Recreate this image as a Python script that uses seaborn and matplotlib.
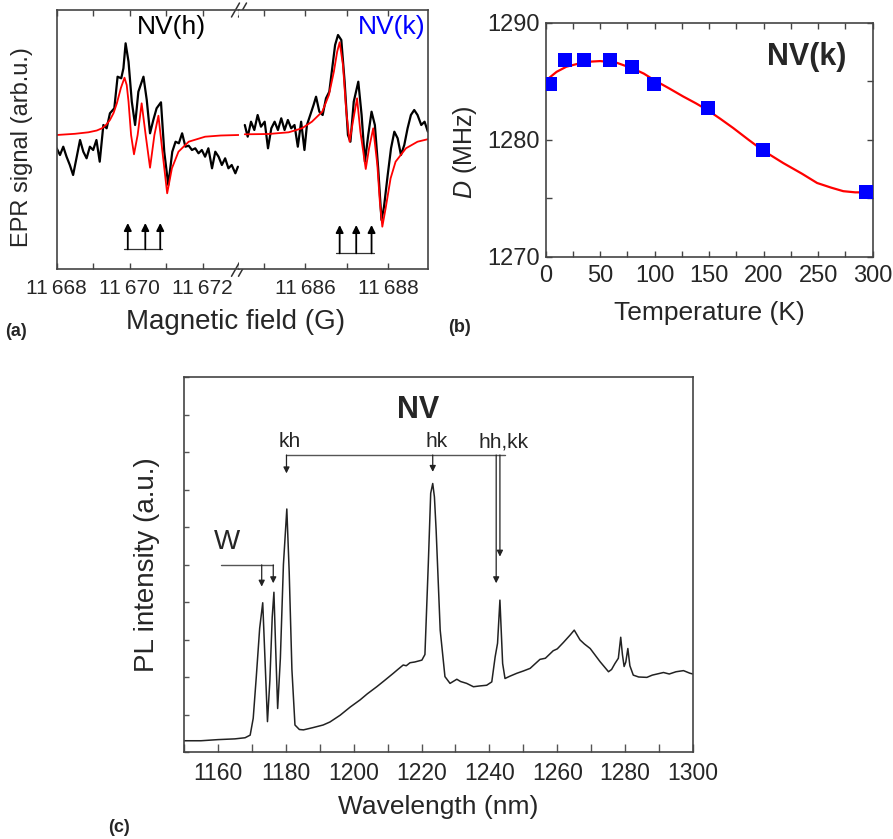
import matplotlib
matplotlib.use("Agg")
import matplotlib.pyplot as plt
import seaborn as sns
from matplotlib.ticker import MultipleLocator, FuncFormatter, NullFormatter

# ---------------- (a) EPR spectra ----------------
# NV(h) part, experiment (black) and fit (red)
field_h = [11668.0, 11668.09, 11668.18, 11668.27, 11668.36, 11668.45, 11668.55, 11668.64, 11668.73, 11668.82,
           11668.91, 11669.0, 11669.09, 11669.18, 11669.28, 11669.37, 11669.46, 11669.58, 11669.67, 11669.77,
           11669.83, 11669.89, 11669.97, 11670.06, 11670.15, 11670.24, 11670.38, 11670.47, 11670.56, 11670.65,
           11670.74, 11670.86, 11670.95, 11671.06, 11671.17, 11671.26, 11671.35, 11671.44, 11671.53, 11671.62,
           11671.71, 11671.80, 11671.89, 11671.98, 11672.07, 11672.16, 11672.26, 11672.35, 11672.44, 11672.53,
           11672.62, 11672.71, 11672.80, 11672.90, 11672.97]
epr_h = [-1.33, -2.0, -1.17, -2.17, -3.0, -4.0, -2.17, -0.5, -1.67, -2.33,
         -1.17, -1.5, -0.5, -2.67, 1.0, 0.67, 2.17, 2.67, 5.83, 5.67,
         6.67, 9.17, 7.33, 3.33, 1.0, 4.33, 5.83, 3.5, 0.17, 1.5,
         2.67, 3.27, -1.67, -5.0, -1.67, -0.67, -0.83, 0.17, -1.17, -1.07,
         -1.5, -1.33, -1.83, -1.5, -2.17, -1.33, -3.33, -1.67, -2.17, -3.0,
         -2.33, -3.33, -3.0, -3.83, -3.17]
field_h_fit = [11668.0, 11668.5, 11668.87, 11669.1, 11669.24, 11669.35, 11669.46, 11669.56, 11669.65, 11669.76,
               11669.86, 11669.92, 11669.97, 11670.04, 11670.12, 11670.22, 11670.33, 11670.44, 11670.56, 11670.68,
               11670.79, 11670.90, 11671.03, 11671.16, 11671.34, 11671.62, 11672.07, 11672.5, 11672.99]
epr_h_fit = [0.0, 0.12, 0.27, 0.45, 0.67, 1.0, 1.5, 2.2, 3.17, 4.7,
             5.73, 5.0, 3.33, 0.0, -1.93, 0.0, 3.17, 0.0, -3.27, 0.0,
             1.93, -1.67, -5.83, -3.33, -1.67, -0.67, -0.17, -0.05, 0.0]

# NV(k) part
field_k = [11684.54, 11684.61, 11684.69, 11684.77, 11684.85, 11684.93, 11685.02, 11685.10, 11685.18, 11685.26,
           11685.34, 11685.42, 11685.50, 11685.58, 11685.66, 11685.74, 11685.82, 11685.90, 11685.98, 11686.04,
           11686.12, 11686.20, 11686.26, 11686.34, 11686.42, 11686.50, 11686.58, 11686.66, 11686.72, 11686.79,
           11686.87, 11686.95, 11687.03, 11687.09, 11687.17, 11687.28, 11687.36, 11687.44, 11687.52, 11687.60,
           11687.68, 11687.76, 11687.84, 11687.90, 11687.99, 11688.07, 11688.15, 11688.23, 11688.31, 11688.39,
           11688.47, 11688.55, 11688.63, 11688.71, 11688.80, 11688.88, 11688.96]
epr_k = [1.0, -0.17, 1.33, 0.5, 2.0, 0.83, 1.33, -1.33, 0.67, 1.33,
         0.5, 1.67, 0.5, 1.5, 0.67, 1.0, -1.17, 1.33, -1.5, 1.0,
         2.0, 3.0, 3.83, 2.33, 2.0, 3.67, 4.33, 7.0, 9.0, 10.0,
         9.5, 5.33, 0.0, -0.67, 3.33, 5.33, 2.0, -2.67, 0.0, 2.33,
         1.0, -3.33, -8.5, -7.2, -4.0, -1.33, 0.33, -0.33, -2.0, -1.0,
         0.67, 2.0, 2.5, 2.0, 1.0, 1.33, 0.33]
field_k_fit = [11684.54, 11685.11, 11685.60, 11685.92, 11686.16, 11686.41, 11686.57, 11686.69, 11686.77, 11686.83,
               11686.91, 11686.99, 11687.07, 11687.15, 11687.25, 11687.33, 11687.46, 11687.54, 11687.64, 11687.74,
               11687.80, 11687.86, 11687.94, 11688.06, 11688.18, 11688.43, 11688.71, 11688.98]
epr_k_fit = [0.07, 0.1, 0.27, 0.67, 1.33, 2.33, 4.0, 6.33, 8.33, 9.27,
             7.0, 2.33, -0.67, 1.33, 3.67, 0.33, -3.4, -1.33, 0.67, -3.0,
             -6.67, -9.17, -7.33, -4.33, -2.67, -1.33, -0.67, -0.4]

# hyperfine line positions (arrows)
arrows_h = [11669.95, 11670.43, 11670.84]
arrows_k = [11686.83, 11687.23, 11687.60]

# ---------------- (b) D vs temperature ----------------
temp = [4, 18, 35, 59, 79.5, 99.5, 149, 199, 294]
d_val = [1284.8, 1286.8, 1286.8, 1286.8, 1286.2, 1284.8, 1282.7, 1279.1, 1275.5]
temp_fit = [3.4, 10, 19, 30, 40.7, 50, 65, 79.5, 90, 99.4, 113, 126, 138, 149, 160,
            172, 186, 199, 218, 235, 249, 262, 273, 284, 294.5]
d_fit = [1285.3, 1285.8, 1286.24, 1286.5, 1286.67, 1286.72, 1286.58, 1286.1, 1285.65, 1285.1,
         1284.4, 1283.7, 1283.1, 1282.5, 1281.8, 1281.0, 1280.0, 1279.1, 1278.0, 1277.1,
         1276.3, 1275.9, 1275.6, 1275.5, 1275.5]

# ---------------- (c) PL spectrum ----------------
wavelength = [1150, 1155, 1160, 1165, 1168, 1169.5, 1170.4, 1171.3, 1172.3, 1173.2,
              1173.9, 1174.6, 1175.3, 1176.0, 1176.5, 1177.0, 1177.6, 1178.4, 1179.3, 1180.3,
              1181.0, 1181.8, 1182.7, 1184.0, 1185.2, 1188, 1191, 1193, 1196, 1199,
              1201.9, 1204, 1206.8, 1209, 1211.7, 1213, 1214.6, 1215.5, 1216.6, 1218,
              1220.1, 1221.0, 1222.0, 1222.7, 1223.3, 1223.8, 1224.3, 1225.5, 1226.9, 1228.4,
              1230.4, 1231.5, 1233.3, 1235.3, 1237, 1239.2, 1240.7, 1241.7, 1242.4, 1243.1,
              1243.9, 1244.6, 1246, 1248.1, 1250, 1252.0, 1254.9, 1256.5, 1258.8, 1260,
              1261.8, 1263.8, 1265.0, 1266.7, 1268, 1269.7, 1272.6, 1275.1, 1276, 1277.0,
              1278.0, 1278.7, 1279.2, 1279.7, 1280.2, 1280.8, 1281.4, 1282.4, 1284, 1286.4,
              1288, 1291.3, 1293, 1295, 1297.2, 1299.1, 1300]
pl = [0.30, 0.30, 0.33, 0.35, 0.38, 0.45, 0.90, 2.00, 3.30, 3.98,
      2.40, 0.81, 1.90, 3.60, 4.26, 2.80, 1.16, 2.50, 5.00, 6.48,
      4.80, 2.20, 0.72, 0.60, 0.59, 0.65, 0.72, 0.80, 0.98, 1.20,
      1.39, 1.55, 1.74, 1.90, 2.10, 2.20, 2.32, 2.30, 2.38, 2.40,
      2.45, 2.60, 5.03, 6.90, 7.16, 6.80, 5.92, 3.25, 2.01, 1.83,
      1.94, 1.88, 1.83, 1.74, 1.76, 1.78, 1.87, 2.54, 2.90, 4.05,
      2.36, 1.96, 2.02, 2.10, 2.16, 2.23, 2.47, 2.50, 2.70, 2.75,
      2.92, 3.12, 3.25, 2.99, 2.88, 2.76, 2.41, 2.14, 2.20, 2.36,
      2.50, 3.06, 2.60, 2.28, 2.40, 2.76, 2.30, 2.05, 2.00, 1.99,
      2.05, 2.12, 2.08, 2.14, 2.17, 2.10, 2.08]

sns.set_theme(style="ticks")
plt.rcParams["font.family"] = ["Liberation Sans", "DejaVu Sans"]
plt.rcParams["mathtext.fontset"] = "custom"
plt.rcParams["mathtext.it"] = "Liberation Sans:italic"
plt.rcParams["mathtext.rm"] = "Liberation Sans"
plt.rcParams["xtick.direction"] = "in"
plt.rcParams["ytick.direction"] = "in"

W, H = 893, 839
fig = plt.figure(figsize=(W / 100, H / 100), dpi=100)


def box(l, t, r, b):
    return [l / W, 1 - b / H, (r - l) / W, (b - t) / H]


def px_text(x, y, s, **kw):
    fig.text(x / W, 1 - y / H, s, ha=kw.pop("ha", "center"), va=kw.pop("va", "center"), **kw)


ax_h = fig.add_axes(box(56.7, 10, 239, 269.3))
ax_k = fig.add_axes(box(239, 10, 428.3, 269.3))
ax_b = fig.add_axes(box(545.7, 22.7, 872.7, 256.7))
ax_c = fig.add_axes(box(184, 377, 693, 752))

for ax in (ax_h, ax_k, ax_b, ax_c):
    for sp in ax.spines.values():
        sp.set_color("#444")
        sp.set_linewidth(1.2)

# ---- panel (a)
kfmt = FuncFormatter(lambda v, p: f"{int(round(v)) // 1000}\u2009{int(round(v)) % 1000:03d}")
for ax, fx, fy, fxf, fyf, lim in [
    (ax_h, field_h, epr_h, field_h_fit, epr_h_fit, (11668, 11673.0)),
    (ax_k, field_k, epr_k, field_k_fit, epr_k_fit, (11684.4, 11688.97)),
]:
    sns.lineplot(x=fx, y=fy, ax=ax, color="black", lw=1.6, sort=False, estimator=None)
    sns.lineplot(x=fxf, y=fyf, ax=ax, color="red", lw=1.3, sort=False, estimator=None)
    ax.set_xlim(*lim)
    ax.set_ylim(-13.43, 12.5)
    ax.set_yticks([])
    ax.xaxis.set_major_locator(MultipleLocator(2))
    ax.xaxis.set_minor_locator(MultipleLocator(1))
    ax.xaxis.set_major_formatter(kfmt)
    ax.tick_params(axis="x", which="both", top=True, length=4, width=1, color="#444",
                   labelsize=15, pad=7)
    ax.set_xlabel("")
    ax.set_ylabel("")
ax_h.spines["right"].set_visible(False)
ax_k.spines["left"].set_visible(False)

arrow_kw = dict(arrowstyle="-|>", color="black", lw=1.3, mutation_scale=11, shrinkA=0, shrinkB=0)
for ax, xs, y0, y1 in [(ax_h, arrows_h, -11.43, -8.8), (ax_k, arrows_k, -11.83, -9.0)]:
    ax.plot([xs[0] - 0.1, xs[-1] + 0.05], [y0, y0], color="#333", lw=0.9)
    for x in xs:
        ax.annotate("", xy=(x, y1), xytext=(x, y0), arrowprops=arrow_kw)

# axis break marks
dx, dy = 4 / 182.3, 7 / 259.3
for yb in (0, 1):
    for off in (-3.5 / 182.3, 3.5 / 182.3):
        ax_h.plot([1 + off - dx, 1 + off + dx], [yb - dy, yb + dy], transform=ax_h.transAxes,
                  color="#333", lw=1.1, clip_on=False)

ax_h.text(0.632, 0.934, "NV(h)", transform=ax_h.transAxes, ha="center", va="center",
          fontsize=19, color="black")
ax_k.text(0.808, 0.934, "NV(k)", transform=ax_k.transAxes, ha="center", va="center",
          fontsize=19, color="blue")

px_text(236, 322, "Magnetic field (G)", fontsize=20)
px_text(22, 147, "EPR signal (arb.u.)", rotation=90, fontsize=17)
px_text(5, 331, "(a)", ha="left", fontsize=13, fontweight="bold")

# ---- panel (b)
sns.lineplot(x=temp_fit, y=d_fit, ax=ax_b, color="red", lw=1.6, sort=False, estimator=None)
sns.scatterplot(x=temp, y=d_val, ax=ax_b, marker="s", s=95, color="blue", linewidth=0, zorder=3)
ax_b.set_xlim(0, 300)
ax_b.set_ylim(1270, 1290)
ax_b.xaxis.set_major_locator(MultipleLocator(50))
ax_b.xaxis.set_minor_locator(MultipleLocator(25))
ax_b.yaxis.set_major_locator(MultipleLocator(10))
ax_b.yaxis.set_minor_locator(MultipleLocator(5))
ax_b.tick_params(which="both", top=True, right=True, length=4, width=1, color="#444", labelsize=17)
ax_b.tick_params(axis="x", pad=6)
ax_b.tick_params(axis="y", pad=4)
ax_b.set_xlabel("")
ax_b.set_ylabel("")
ax_b.text(0.799, 0.853, "NV(k)", transform=ax_b.transAxes, ha="center", va="center",
          fontsize=22, fontweight="bold")
px_text(709, 313, "Temperature (K)", fontsize=19)
px_text(465, 152, "$D$ (MHz)", rotation=90, fontsize=18)
px_text(448, 328, "(b)", ha="left", fontsize=13, fontweight="bold")

# ---- panel (c)
sns.lineplot(x=wavelength, y=pl, ax=ax_c, color="#222", lw=1.1, sort=False, estimator=None)
ax_c.set_xlim(1150, 1300)
ax_c.set_ylim(0, 10)
ax_c.xaxis.set_major_locator(MultipleLocator(20))
ax_c.xaxis.set_minor_locator(MultipleLocator(10))
ax_c.yaxis.set_major_locator(MultipleLocator(1))
ax_c.yaxis.set_major_formatter(NullFormatter())
ax_c.tick_params(axis="x", which="both", length=6, width=1, color="#555", labelsize=16.5, pad=7)
ax_c.tick_params(axis="y", length=3.5, width=1, color="#555")
ax_c.set_xlabel("")
ax_c.set_ylabel("")

ann = "#555"
c_arrow = dict(arrowstyle="-|>", color="#222", lw=0.9, mutation_scale=9, shrinkA=0, shrinkB=0)
# W lines
ax_c.plot([1160.8, 1176.3], [4.99, 4.99], color=ann, lw=1)
for x, yt in [(1172.9, 4.41), (1176.3, 4.50)]:
    ax_c.annotate("", xy=(x, yt), xytext=(x, 4.99), arrowprops=c_arrow)
ax_c.text(1162.6, 5.6, "W", ha="center", va="center", fontsize=20)
# kh / hk / hh,kk lines
ax_c.plot([1180.2, 1244.6], [7.92, 7.92], color=ann, lw=1)
for x, yt in [(1180.2, 7.43), (1223.3, 7.47), (1242.0, 4.5), (1243.1, 5.21)]:
    ax_c.annotate("", xy=(x, yt), xytext=(x, 7.92), arrowprops=c_arrow)
for x, s in [(1181.2, "kh"), (1224.5, "hk"), (1244.3, "hh,kk")]:
    ax_c.text(x, 8.27, s, ha="center", va="center", fontsize=15)
ax_c.text(1219, 9.12, "NV", ha="center", va="center", fontsize=22, fontweight="bold")

px_text(438, 807, "Wavelength (nm)", fontsize=19)
px_text(147, 565, "PL intensity (a.u.)", rotation=90, fontsize=20)
px_text(108, 828, "(c)", ha="left", fontsize=13, fontweight="bold")

fig.savefig("out.png", dpi=100)
